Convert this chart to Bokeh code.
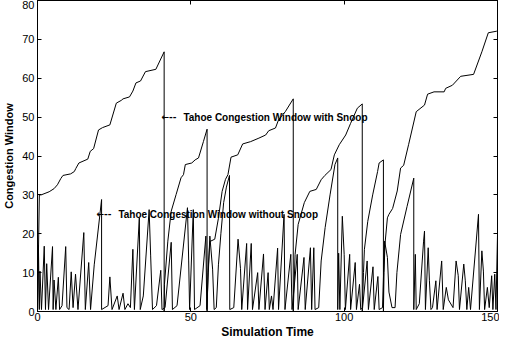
from bokeh.plotting import figure
from bokeh.models import FixedTicker, LinearAxis, Range1d
from bokeh.core.properties import value
from bokeh.embed import file_html
from bokeh.resources import INLINE

# ---- data ----
snoop_x = [0, 0.6, 1.2, 3.8, 5.4, 6.5, 7.6, 8.3, 10.8, 12, 12.5, 13.5, 16.4, 17.2, 18.3, 19.9, 21.2, 23.6,
           25.7, 27.3, 27.9, 30, 31.1, 32.1, 33.6, 35.2, 38.6, 41.3, 41.3,
           41.4, 42.5, 43.6, 45.2, 46.8, 47.6, 48.2, 50.3, 51.4, 52.5, 54.1, 55.3, 55.3,
           55.6, 56.2, 57.8, 59, 60.2, 61.3, 62.1, 63.1, 65.3, 66.9, 69.5, 72.2, 74.4, 75.4, 77.6, 78.6,
           80.8, 83.4, 83.4,
           84, 85, 87, 88.8, 90.9, 92.5, 93.7, 95.7, 96.8, 98.4, 100.5, 102.1, 104.3, 105.9, 105.9,
           106.3, 106.6, 107.7, 109.3, 110.9, 111.4, 112.8, 112.8,
           113, 113.3, 114.1, 114.6, 115.8, 117.3, 118.4, 119.4, 121, 123.5, 126.2, 127.2, 129.3,
           132.6, 133.1, 135.3, 138, 142.2, 144.9, 147, 149.7, 150]
snoop_y = [0, 30, 30, 30.8, 31.6, 32.6, 34.2, 35, 35.4, 36, 36.8, 38.2, 39.2, 41.2, 41.9, 46.7, 47.3, 48,
           53.6, 54.3, 54.7, 55.2, 56.7, 58.8, 59.3, 61.7, 62.3, 66.8, 0,
           7, 18.1, 25.8, 30.1, 34.4, 35.2, 37.8, 38.2, 39, 39.5, 43.7, 46.9, 0,
           10, 18, 18.6, 24, 30.9, 34, 35.2, 39.7, 40.3, 43.1, 43.7, 44.6, 45.4, 46.5, 47.2, 49.3,
           51.4, 54.7, 0,
           14.7, 22.4, 28, 30.9, 31.4, 33.9, 35, 36.5, 40.3, 42.9, 45.4, 48.4, 52.3, 53.4, 0,
           10, 16, 23.2, 30, 36, 38.2, 39, 0,
           10, 17.3, 24.1, 25, 26.5, 31, 36.9, 37.6, 42.9, 51.4, 53.1, 55.9, 56.5,
           56.5, 57.4, 58.2, 60.5, 61, 66.8, 71.7, 72.1, 72.2]

nosnoop_x = [0, 0.3, 0.6, 0.8, 1.3, 2.2, 2.6, 3.0, 3.6, 4.9, 5.1, 5.4, 6.0, 6.8, 7.2, 8.0, 9.2, 9.6, 10.3,
             11.0, 11.6, 12.4, 13.2, 15.1, 15.6, 16.7, 17.3, 18.5, 20.9, 20.9, 23.0, 23.6, 24.3, 26.0,
             26.6, 27.9, 28.5, 29.5, 30.3, 31.1, 31.6, 33.2, 33.5, 34.5, 36.4, 36.9, 37.5, 38.8, 40.2,
             40.6, 41.6, 43.6, 44, 45.5, 48.9, 49.3, 49.6, 50.8, 51.2, 53, 54.9, 55.2, 56.2, 57.1, 57.6,
             58.3, 59, 59.8, 60.7, 61.6, 62.6, 62.7, 64, 65.4, 66.2, 66.6, 68.2, 68.5, 69.7, 70.1, 71.8,
             72.2, 73.7, 74.2, 75.2, 75.6, 76.3, 76.8, 78.3, 78.6, 80.4, 80.7, 82.6, 83, 84.7, 85, 86.9,
             87.3, 89, 89.4, 90.1, 90.5, 91.7, 92.5, 93.8, 95.4, 97, 97.9, 97.9, 98.2, 98.6, 99.4, 100,
             100.4, 101.8, 102.1, 103.6, 104, 105, 105.4, 106, 107.5, 107.9, 109.4, 109.8, 111, 111.4,
             112.5, 113.2, 114.1, 114.6, 115.6, 116.6, 117.2, 118.4, 120.5, 122.7, 122.7, 123.2, 123.5,
             124.5, 125.9, 126.2, 126.5, 127.4, 127.8, 128.3, 128.8, 129.9, 130.3, 131.8, 132.3, 133.3,
             134, 135.5, 136.5, 137.2, 137.6, 139, 139.5, 140, 140.6, 141.2, 143.8, 144.1, 144.9, 145.4,
             145.8, 146.7, 147.3, 148.1, 148.5, 149.1, 149.5, 150]
nosnoop_y = [0, 17, 0.5, 10.4, 0.5, 16.8, 0.5, 12.3, 0.5, 16.7, 0.5, 8.1, 0.5, 8.8, 0.5, 1.5, 16.7, 1, 0.5,
             10.2, 1, 9.6, 0.5, 20.3, 0.5, 12.6, 0.5, 12, 28.8, 0.5, 1.5, 8.9, 0.5, 4,
             0.5, 4.7, 0.5, 2, 1, 16, 0.5, 24.1, 0.5, 4, 26.2, 14.3, 0.5, 1.5, 10.6,
             0.5, 1, 17.8, 0.5, 1.5, 26.7, 13, 0.5, 26.2, 0.5, 1.5, 19.4, 0.5, 19.4, 10.9, 0.5,
             1, 12, 20, 28, 32, 35, 0.5, 1, 18.6, 11, 0.5, 17.5, 0.5, 17.5, 0.5, 10,
             0.5, 14.8, 0.5, 10, 0.5, 4, 0.5, 16.3, 0.5, 25, 0.5, 14.7, 0.5, 14.7, 0.5, 13.9,
             0.5, 16.4, 0.5, 16.4, 0.5, 1, 13, 21.6, 30, 37.8, 39.5, 0.5, 15, 0.5, 24.5, 14.7,
             0.5, 14.7, 0.5, 12.6, 0.5, 7, 0.5, 1, 13, 0.5, 11.5, 0.5, 9, 0.5,
             1, 18.1, 13.9, 5, 1, 1, 10, 19.8, 27, 34.3, 0.5, 14.7, 0.5,
             2, 18.1, 20.7, 0.5, 16.4, 7.9, 0.5, 1, 7.9, 0.5, 13, 0.5, 6.2,
             3, 1, 13, 9.2, 0.5, 12.2, 7.9, 0.5, 6.2, 0.5, 25, 0.5, 15.6, 10.4,
             0.5, 6.2, 1, 9.2, 0.5, 9.6, 0.5, 19.8]

x_ticks = [0, 50, 100, 150]
y_ticks = [0, 10, 20, 30, 40, 50, 60, 70, 80]

arrow = "\u2190--"
label_snoop = "Tahoe Congestion Window with Snoop"
label_nosnoop = "Tahoe Congestion Window without Snoop"
label_x = [40.4, 19.2]
label_y = [50, 25]
label_text = [label_snoop, label_nosnoop]

FONT = "Liberation Sans"

p = figure(x_range=Range1d(0, 150), y_range=Range1d(0, 80),
           frame_width=460, frame_height=311,
           output_backend="svg", toolbar_location=None)
p.min_border = 0
p.min_border_top = 0
p.min_border_right = 2
p.min_border_left = 0
p.min_border_bottom = 0
p.background_fill_color = "white"
p.border_fill_color = "white"
p.outline_line_color = "black"
p.outline_line_width = 1
p.xgrid.visible = False
p.ygrid.visible = False

for ax in (p.xaxis[0], p.yaxis[0]):
    ax.major_tick_in = 4
    ax.major_tick_out = 0
    ax.minor_tick_line_color = None
    ax.axis_line_color = "black"
    ax.major_tick_line_color = "black"
    ax.major_label_text_font = FONT
    ax.major_label_text_font_size = "11px"
    ax.major_label_text_color = "black"
    ax.axis_label_text_font = FONT
    ax.axis_label_text_font_style = "bold"
    ax.axis_label_text_color = "black"

p.xaxis.ticker = FixedTicker(ticks=x_ticks)
p.yaxis.ticker = FixedTicker(ticks=y_ticks)
p.xaxis.axis_label = "Simulation Time"
p.yaxis.axis_label = "Congestion Window"
p.xaxis.axis_label_text_font_size = "12px"
p.yaxis.axis_label_text_font_size = "11px"
p.xaxis.major_label_standoff = 1
p.yaxis.major_label_standoff = 3
p.xaxis.axis_label_standoff = 1
p.yaxis.axis_label_standoff = 4

# mirrored tick axes (box style), no labels
top = LinearAxis(ticker=FixedTicker(ticks=x_ticks), major_tick_in=4, major_tick_out=0,
                 minor_tick_line_color=None, major_label_text_color=None,
                 major_label_text_font_size="1px", major_label_standoff=0, axis_line_color="black")
right = LinearAxis(ticker=FixedTicker(ticks=y_ticks), major_tick_in=4, major_tick_out=0,
                   minor_tick_line_color=None, major_label_text_color=None,
                   major_label_text_font_size="1px", major_label_standoff=0, axis_line_color="black")
p.add_layout(top, "above")
p.add_layout(right, "right")

p.line(nosnoop_x, nosnoop_y, line_color="black", line_width=1)
p.line(snoop_x, snoop_y, line_color="black", line_width=1)

# arrow part of the annotations
p.text(x=label_x, y=label_y, text=[arrow, arrow],
       text_font=value("DejaVu Sans"), text_font_style="bold", text_font_size="9px",
       text_baseline="middle", text_align="left", text_color="black")
# annotation text, after the arrow
p.text(x=label_x, y=label_y, text=label_text, x_offset=22,
       text_font=value(FONT), text_font_style="bold", text_font_size="10px",
       text_baseline="middle", text_align="left", text_color="black")

open("out.html", "w").write(file_html(p, INLINE))
